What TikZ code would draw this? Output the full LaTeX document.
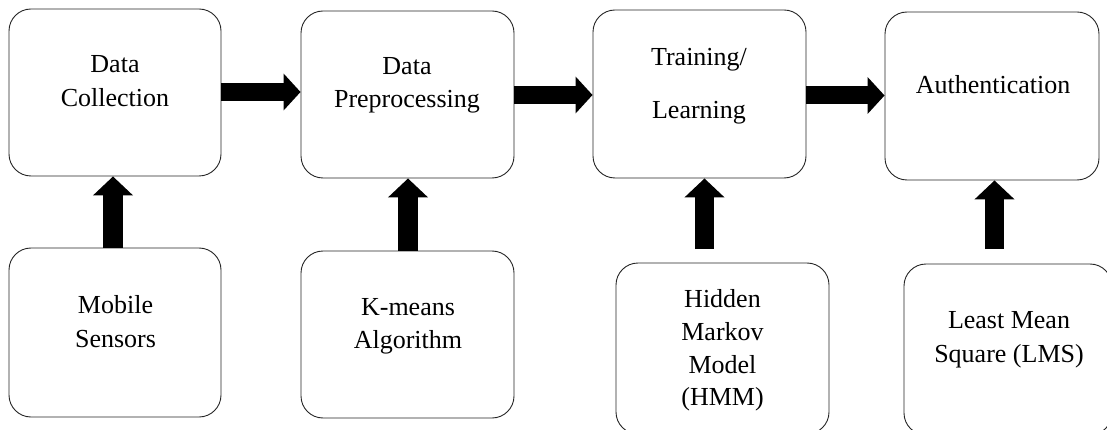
\documentclass[tikz,border=0pt]{standalone}
\usepackage{fontspec}
\setmainfont{Liberation Serif}
\usetikzlibrary{arrows.meta}
\begin{document}
\begin{tikzpicture}[x=1pt,y=-1pt,
  box/.style={draw=black!85, line width=0.9pt, rounded corners=22pt, inner sep=0pt},
  lbl/.style={anchor=base, inner sep=0pt, font=\fontsize{26}{32}\selectfont},
  harrow/.style={line width=18pt, -{Triangle[width=36pt,length=17pt]}},
  varrow/.style={line width=19.5pt, -{Triangle[width=39pt,length=19pt]}}]
\clip (0,0) rectangle (1107,430);
\fill[white] (0,0) rectangle (1107,430);
% top row
\node[box, minimum width=212pt, minimum height=167pt] (b1) at (115,92.5) {};
\node[box, minimum width=213pt, minimum height=167pt] (b2) at (407.5,94.5) {};
\node[box, minimum width=213pt, minimum height=168pt] (b3) at (699.5,94) {};
\node[box, minimum width=214pt, minimum height=168pt] (b4) at (992,96) {};
% bottom row
\node[box, minimum width=212pt, minimum height=169pt] (ms) at (115,332.5) {};
\node[box, minimum width=213pt, minimum height=167pt] (km) at (407.5,334.5) {};
\node[box, minimum width=213pt, minimum height=171pt] (hm) at (722.5,348.5) {};
\node[box, minimum width=208pt, minimum height=171pt] (lm) at (1008,349.5) {};
% labels
\node[lbl] (t1a) at (115,73) {Data};
\node[lbl] (t1b) at (115,107) {Collection};
\node[lbl] (t2a) at (407,75) {Data};
\node[lbl] (t2b) at (407,108) {Preprocessing};
\node[lbl] (t3a) at (699,66) {Training/};
\node[lbl] (t3b) at (699,119) {Learning};
\node[lbl] (t4a) at (993,94) {Authentication};
\node[lbl] (t5a) at (115.5,313) {Mobile};
\node[lbl] (t5b) at (115.5,347) {Sensors};
\node[lbl] (t6a) at (408,315) {K-means};
\node[lbl] (t6b) at (408,348) {Algorithm};
\node[lbl] (t7a) at (722.5,307) {Hidden};
\node[lbl] (t7b) at (722.5,340) {Markov};
\node[lbl] (t7c) at (722.5,373) {Model};
\node[lbl] (t7d) at (722.5,405) {(HMM)};
\node[lbl] (t8a) at (1009,328) {Least Mean};
\node[lbl] (t8b) at (1009,362) {Square (LMS)};
% horizontal arrows
\draw[harrow] (b1.east |- 0,92) -- (b2.west |- 0,92);
\draw[harrow] (b2.east |- 0,95) -- (b3.west |- 0,95);
\draw[harrow] (b3.east |- 0,95.5) -- (b4.west |- 0,95.5);
% vertical arrows
\coordinate (v3s) at (704.5,249);
\coordinate (v4s) at (994.5,249);
\draw[varrow] (ms.north -| 113,0) -- (b1.south -| 113,0);
\draw[varrow] (km.north -| 408,0) -- (b2.south -| 408,0);
\draw[varrow] (v3s) -- (b3.south -| v3s);
\draw[varrow] (v4s) -- (b4.south -| v4s);
\end{tikzpicture}
\end{document}
